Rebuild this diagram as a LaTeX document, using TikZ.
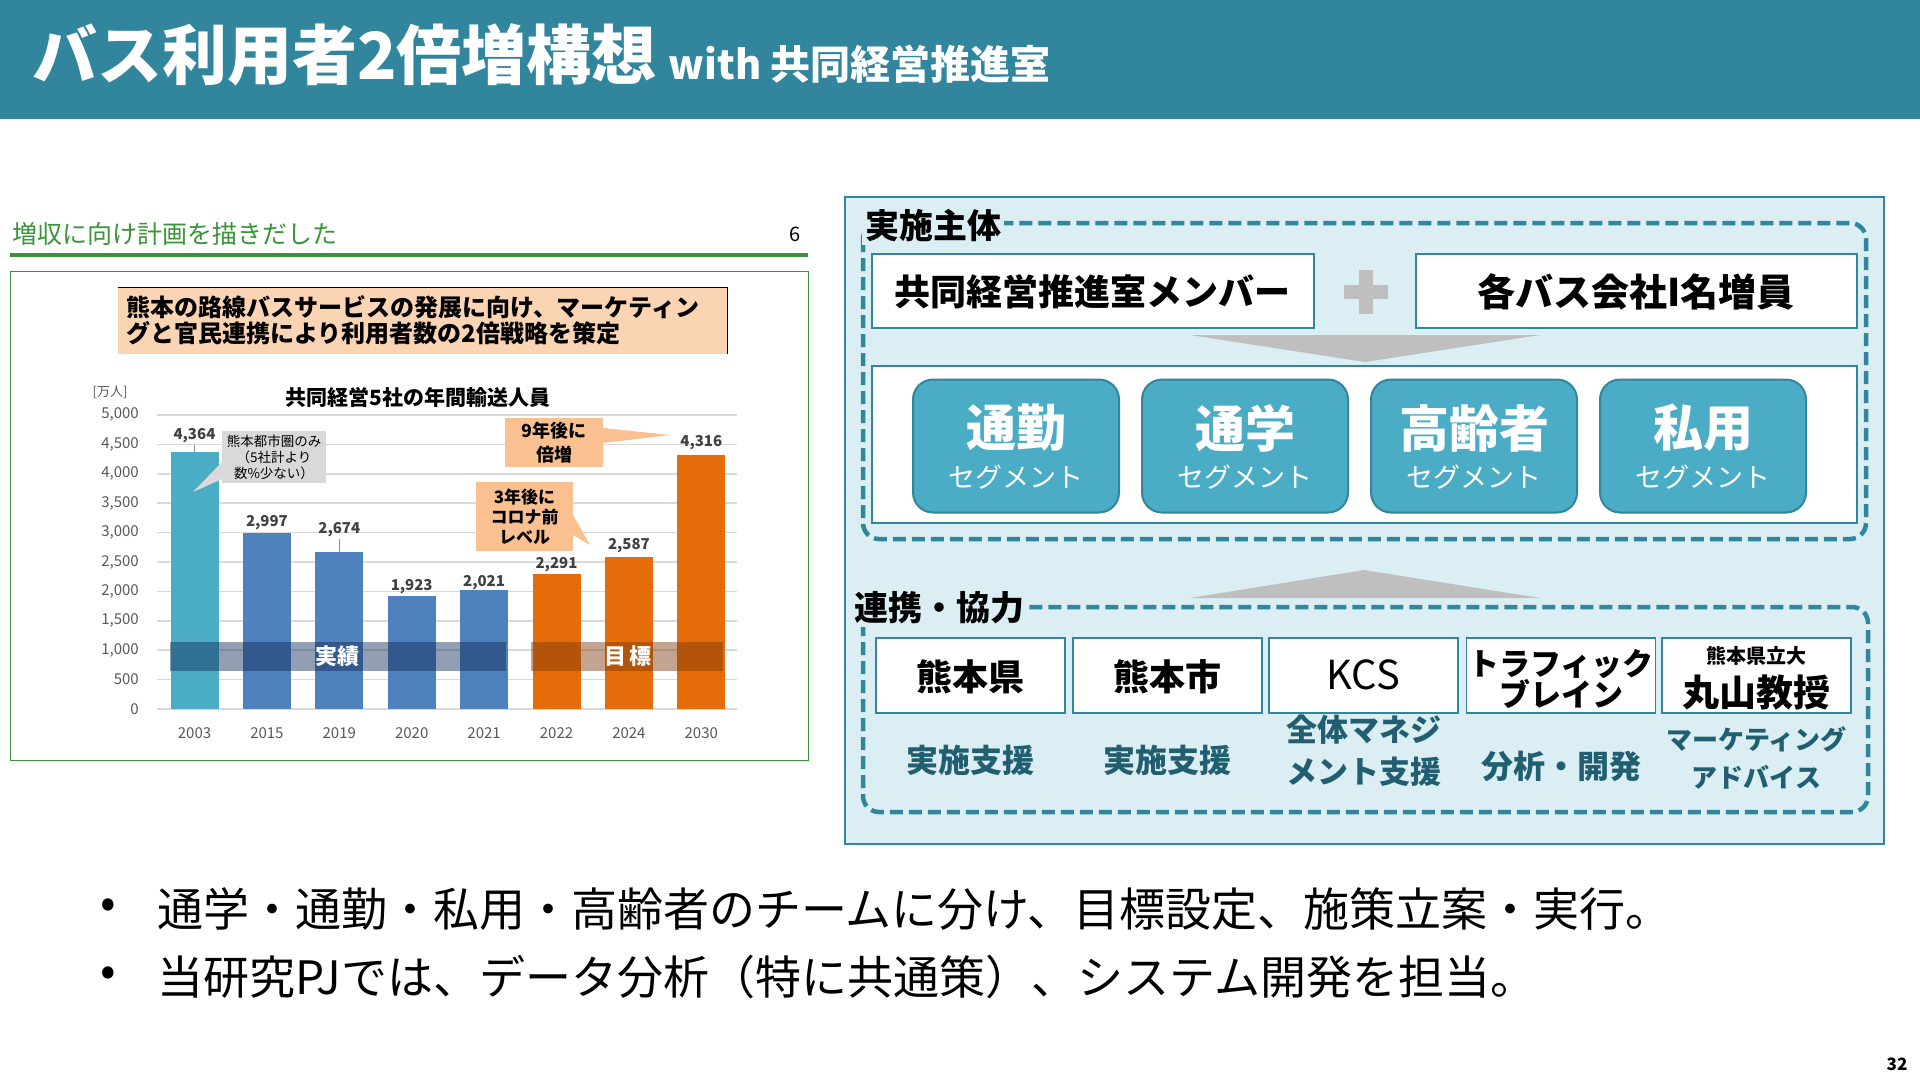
\documentclass[tikz,border=0pt]{standalone}
\usepackage{fontspec}
\setmainfont{Noto Sans CJK JP}
\definecolor{headteal}{RGB}{49,133,156}
\definecolor{tealb}{RGB}{49,133,156}
\definecolor{panelfill}{RGB}{218,238,243}
\definecolor{segfill}{RGB}{75,172,198}
\definecolor{descteal}{RGB}{33,95,112}
\definecolor{subgreen}{RGB}{56,150,56}
\definecolor{linegreen}{RGB}{60,145,60}
\definecolor{peach}{RGB}{251,212,180}
\definecolor{barblue}{RGB}{79,129,189}
\definecolor{barteal}{RGB}{75,172,198}
\definecolor{barorange}{RGB}{228,108,10}
\definecolor{calloutorange}{RGB}{250,192,144}
\definecolor{calloutgray}{RGB}{217,217,217}
\definecolor{gridgray}{RGB}{217,217,217}
\definecolor{axisgray}{RGB}{89,89,89}
\definecolor{valgray}{RGB}{64,64,64}
\definecolor{chevgray}{RGB}{191,191,191}
\definecolor{bandnavy}{RGB}{15,40,85}
\definecolor{bandbrown}{RGB}{120,55,10}
\newcommand{\fsz}[2]{\fontsize{#1}{#2}\selectfont}
\begin{document}
\begin{tikzpicture}[x=1pt,y=-1pt,
  wbox/.style={draw=tealb, line width=1.6pt, fill=white, inner sep=0pt, outer sep=0pt},
  seg/.style={draw=tealb, line width=2pt, fill=segfill, rounded corners=20pt, minimum width=206pt, minimum height=133pt, inner sep=0pt},
  segbig/.style={text=white, font=\bfseries\fsz{50}{56}, inner sep=0pt},
  segsmall/.style={text=white, font=\fsz{27}{30}, inner sep=0pt},
  dashbox/.style={draw=tealb, line width=4.5pt, dash pattern=on 13pt off 6pt, rounded corners=16pt},
  grouplabel/.style={font=\bfseries\fsz{34}{40}, fill=panelfill, inner sep=3pt, anchor=west},
  orgtext/.style={font=\bfseries\fsz{36}{40}, inner sep=0pt, align=center},
  desc/.style={text=descteal, font=\bfseries\fsz{32}{42}, align=center, inner sep=0pt},
  ylab/.style={anchor=east, text=axisgray, font=\fsz{15}{18}, inner sep=0pt},
  xlab/.style={text=axisgray, font=\fsz{15}{18}, inner sep=0pt},
  vlab/.style={text=valgray, font=\bfseries\fsz{15}{18}, inner sep=0pt},
  bullet/.style={font=\fsz{46}{50}, anchor=west, inner sep=0pt}
]
\useasboundingbox (0,0) rectangle (1920,1080);
\fill[white] (0,0) rectangle (1920,1080);

% ---------- header ----------
\fill[headteal] (0,0) rectangle (1920,119);
\node[anchor=base west, text=white, font=\bfseries\fsz{65}{70}, inner sep=0pt] (title) at (32,79)
  {バス利用者2倍増構想\hspace{12pt}{\fsz{40}{44}with 共同経営推進室}};

% ---------- left: chart slide ----------
\node[anchor=west, text=subgreen, font=\fsz{25}{28}, inner sep=0pt] (subtitle) at (12,234) {増収に向け計画を描きだした};
\node[font=\fsz{20}{24}, inner sep=0pt] (pageno6) at (795,234) {6};
\draw[linegreen, line width=3.5pt] (10,255) -- (808,255);
\draw[linegreen, line width=1pt] (10,271) rectangle (808,760);

\node[fill=peach, minimum width=609pt, minimum height=66pt, inner sep=0pt] (peachbox) at (422.5,321) {};
\draw[black, line width=0.9pt] (peachbox.north west) -- (peachbox.north east) -- (peachbox.south east);
\node[anchor=west, align=left, font=\bfseries\fsz{24}{26}, inner sep=0pt] (peachtext) at (126,320)
  {熊本の路線バスサービスの発展に向け、マーケティン\\グと官民連携により利用者数の2倍戦略を策定};

% chart title and unit
\node[font=\bfseries\fsz{21}{24}, inner sep=0pt] (charttitle) at (418,397) {共同経営5社の年間輸送人員};
\node[text=axisgray, font=\fsz{13}{16}, inner sep=0pt] (unit) at (110,392) {[万人]};

% gridlines and y labels
\foreach \v/\t in {0/0,500/500,1000/{1,000},1500/{1,500},2000/{2,000},2500/{2,500},3000/{3,000},3500/{3,500},4000/{4,000},4500/{4,500},5000/{5,000}} {
  \draw[gridgray, line width=1.5pt] (157,{709-0.0588*\v}) -- (737,{709-0.0588*\v});
  \node[ylab] at (139,{709-0.0588*\v}) {\t};
}

% bars
\foreach \i/\x/\v/\c/\yr in {0/194.5/4364/barteal/2003, 1/266.9/2997/barblue/2015, 2/339.3/2674/barblue/2019, 3/411.7/1923/barblue/2020, 4/484.1/2021/barblue/2021, 5/556.5/2291/barorange/2022, 6/628.9/2587/barorange/2024, 7/701.3/4316/barorange/2030} {
  \fill[\c] (\x-24,709) rectangle (\x+24,{709-0.0588*\v});
  \node[xlab] (yr\i) at (\x,733) {\yr};
}

% value labels
\node[vlab] (v0) at (194.5,436) {4,364};
\draw[axisgray!70, line width=0.8pt] (v0.south) ++(0,2) -- (194.5,452);
\node[vlab] (v1) at (266.9,523) {2,997};
\node[vlab] (v2) at (339.3,530) {2,674};
\draw[axisgray!70, line width=0.8pt] (v2.south) ++(0,2) -- (339.3,552);
\node[vlab] (v3) at (411.7,587) {1,923};
\node[vlab] (v4) at (484.1,583) {2,021};
\node[vlab] (v5) at (556.5,565) {2,291};
\node[vlab] (v6) at (628.9,546) {2,587};
\node[vlab] (v7) at (701.3,443) {4,316};

% bands
\fill[bandnavy, opacity=0.45] (170,642) rectangle (506,671);
\node[text=white, font=\bfseries\fsz{22}{24}, inner sep=0pt] (jisseki) at (337,656) {実績};
\fill[bandbrown, opacity=0.45] (531,642) rectangle (723,671);
\node[text=white, font=\bfseries\fsz{22}{24}, inner sep=0pt] (mokuhyo) at (628,656) {目\kern4pt 標};

% callouts
\fill[calloutgray] (222,462) -- (193,492) -- (222,479) -- cycle;
\node[fill=calloutgray, minimum width=104pt, minimum height=52pt, inner sep=0pt, align=center, font=\fsz{13.5}{16}] (cgray) at (274,457)
  {熊本都市圏のみ\\（5社計より\\数\%少ない）};
\fill[calloutorange] (603,428) -- (670,435) -- (603,443) -- cycle;
\node[fill=calloutorange, minimum width=98pt, minimum height=49pt, inner sep=0pt, align=center, font=\bfseries\fsz{18}{24}] (c9) at (554,442.5)
  {9年後に\\倍増};
\fill[calloutorange] (573,515) -- (590,545) -- (573,535) -- cycle;
\node[fill=calloutorange, minimum width=97pt, minimum height=69pt, inner sep=0pt, align=center, font=\bfseries\fsz{17}{20}] (c3) at (524.5,516.5)
  {3年後に\\コロナ前\\レベル};

% ---------- right panel ----------
\draw[tealb, line width=2pt, fill=panelfill] (845,197) rectangle (1884,844);

\draw[dashbox] (863,223) rectangle (1866,539);
\node[grouplabel] (jisshi) at (862,226) {実施主体};

\node[wbox, minimum width=442pt, minimum height=74pt] (members) at (1093,291) {};
\node[font=\bfseries\fsz{36}{40}, inner sep=0pt] (memberstext) at (1092,292) {共同経営推進室メンバー};
\fill[chevgray] (1359,270) rectangle (1373,314);
\fill[chevgray] (1344,285) rectangle (1388,299);
\node[wbox, minimum width=441pt, minimum height=74pt] (busco) at (1636.5,291) {};
\node[font=\bfseries\fsz{38}{40}, inner sep=0pt] (buscotext) at (1636,292) {各バス会社I名増員};

\fill[chevgray] (1190,335) -- (1540,335) -- (1365,362) -- cycle;

\node[wbox, minimum width=985pt, minimum height=157pt] (segarea) at (1364.5,444.5) {};
\foreach \i/\cx/\w in {1/1016/通勤, 2/1245/通学, 3/1474/高齢者, 4/1703/私用} {
  \node[seg] (seg\i) at (\cx,446) {};
  \node[segbig] (segb\i) at (\cx,428) {\w};
  \node[segsmall] (segs\i) at (\cx,477) {セグメント};
}

\fill[chevgray] (1190,598) -- (1540,598) -- (1364,570) -- cycle;

\draw[dashbox] (863,607) rectangle (1868,812);
\node[grouplabel] (renkei) at (851,608) {連携・協力};

\foreach \i/\cx in {1/970.5, 2/1167.5, 3/1363.5, 4/1561, 5/1756.5}
  \node[wbox, minimum width=189pt, minimum height=75pt] (org\i) at (\cx,675.5) {};
\node[orgtext] (t1) at (970.5,677) {熊本県};
\node[orgtext] (t2) at (1167.5,677) {熊本市};
\node[font=\fsz{40}{42}, inner sep=0pt] (t3) at (1363.5,675) {KCS};
\node[font=\bfseries\fsz{31}{29}, align=center, inner sep=0pt] (t4) at (1561,679) {トラフィック\\ブレイン};
\node[font=\bfseries\fsz{20}{22}, inner sep=0pt] (t5a) at (1756.5,656) {熊本県立大};
\node[font=\bfseries\fsz{37}{40}, inner sep=0pt] (t5b) at (1756.5,693) {丸山教授};

\node[desc] (d1) at (970.5,760) {実施支援};
\node[desc] (d2) at (1167.5,760) {実施支援};
\node[desc, font=\bfseries\fsz{31}{42}] (d3) at (1363.5,751) {全体マネジ\\メント支援};
\node[desc] (d4) at (1561,766) {分析・開発};
\node[desc, font=\bfseries\fsz{26}{38}] (d5) at (1756.5,758) {マーケティング\\アドバイス};

% ---------- bullets ----------
\node[bullet] (b1dot) at (100,909) {•};
\node[bullet] (b1) at (157,909) {通学・通勤・私用・高齢者のチームに分け、目標設定、施策立案・実行。};
\node[bullet] (b2dot) at (100,977) {•};
\node[bullet] (b2) at (157,977) {当研究PJでは、データ分析（特に共通策）、システム開発を担当。};

\node[font=\bfseries\fsz{17}{20}, inner sep=0pt] (pagenum) at (1897,1064) {32};
\end{tikzpicture}
\end{document}
